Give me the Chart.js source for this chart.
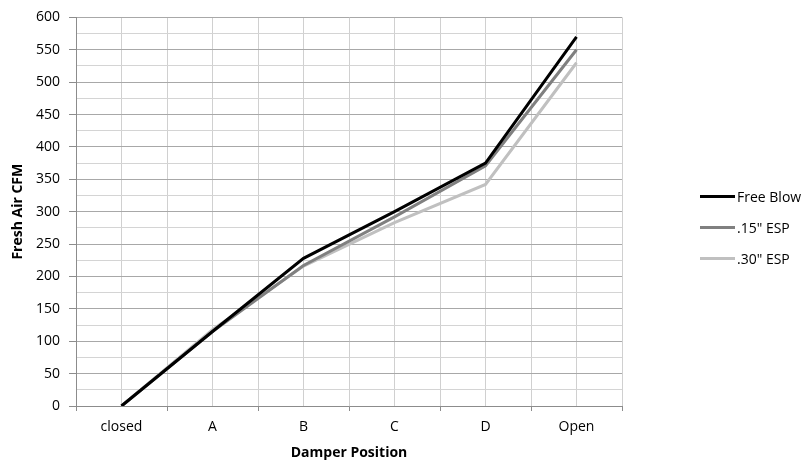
<!DOCTYPE html>
<html>
<head>
<meta charset="utf-8">
<script src="https://cdn.jsdelivr.net/npm/chart.js@4.4.1/dist/chart.umd.min.js"></script>
<style>
  html, body { margin: 0; padding: 0; background: #fff; }
  #wrap { position: relative; width: 808px; height: 465px; }
  #legend { position: absolute; left: 700px; top: 181px; font-family: "Open Sans", sans-serif; font-size: 14px; color: #000; }
  #legend .row { display: flex; align-items: center; height: 31px; white-space: nowrap; }
  #legend .swatch { display: inline-block; width: 35px; height: 3px; margin-right: 2px; }
</style>
</head>
<body>
<div id="wrap">
  <canvas id="airChart" width="808" height="465"></canvas>
  <div id="legend"></div>
</div>
<script>
// Dữ liệu
const positions = ['closed', 'A', 'B', 'C', 'D', 'Open'];
const freeBlow = [0, 115, 228, 300, 375, 570];
const esp15 = [0, 115, 217, 292, 371, 550];
const esp30 = [0, 118, 216, 283, 342, 530];

const fontFam = '"Open Sans", sans-serif';

const ctx = document.getElementById('airChart').getContext('2d');
const airChart = new Chart(ctx, {
    type: 'line',
    data: {
        labels: positions,
        datasets: [
            { label: 'Free Blow', data: freeBlow, borderColor: '#000000', borderWidth: 3 },
            { label: '.15" ESP', data: esp15, borderColor: '#808080', borderWidth: 3 },
            { label: '.30" ESP', data: esp30, borderColor: '#c0c0c0', borderWidth: 3 },
        ],
    },
    options: {
        responsive: false,
        animation: false,
        devicePixelRatio: 1,
        layout: { padding: { top: 13, right: 186, bottom: 4, left: 0 } },
        elements: {
            line: { tension: 0 },
            point: { radius: 0 },
        },
        plugins: {
            tooltip: { enabled: false },
            legend: { display: false },
        },
        scales: {
            x: {
                offset: true,
                grid: { offset: true, color: '#d0d0d0', tickLength: 5, tickColor: '#8c8c8c' },
                border: { color: '#8c8c8c' },
                ticks: { color: '#000', font: { family: fontFam, size: 14 }, padding: 8 },
                title: { display: true, text: 'Damper Position', color: '#000', font: { family: fontFam, size: 14, weight: 'bold' }, padding: { top: 0, bottom: 0 } },
                afterFit: (s) => { s.height = 55; },
            },
            x2: {
                type: 'category',
                position: 'bottom',
                offset: true,
                grid: { offset: false, color: '#d0d0d0', drawTicks: false },
                border: { display: false },
                ticks: { display: false },
                afterFit: (s) => { s.height = 0; },
            },
            y: {
                min: 0,
                max: 600,
                ticks: {
                    stepSize: 25,
                    autoSkip: false,
                    color: '#000',
                    font: { family: fontFam, size: 14 },
                    padding: 9,
                    callback: (v) => (v % 50 === 0 ? v : ''),
                },
                grid: {
                    color: (c) => (c.tick && c.tick.value % 50 === 0 ? '#a8a8a8' : '#d4d4d4'),
                    tickColor: (c) => (c.tick && c.tick.value % 50 === 0 ? '#8c8c8c' : 'rgba(0,0,0,0)'),
                    tickLength: 7,
                },
                border: { color: '#8c8c8c' },
                title: { display: true, text: 'Fresh Air CFM', color: '#000', font: { family: fontFam, size: 14, weight: 'bold' }, padding: { top: 10, bottom: 0 } },
                afterFit: (s) => { s.width = 76; },
            },
        },
    },
});

// Chú giải HTML lấy từ dataset
const legendBox = document.getElementById('legend');
airChart.data.datasets.forEach((ds) => {
    const row = document.createElement('div');
    row.className = 'row';
    const sw = document.createElement('span');
    sw.className = 'swatch';
    sw.style.background = ds.borderColor;
    row.appendChild(sw);
    row.appendChild(document.createTextNode(ds.label));
    legendBox.appendChild(row);
});
</script>
</body>
</html>
